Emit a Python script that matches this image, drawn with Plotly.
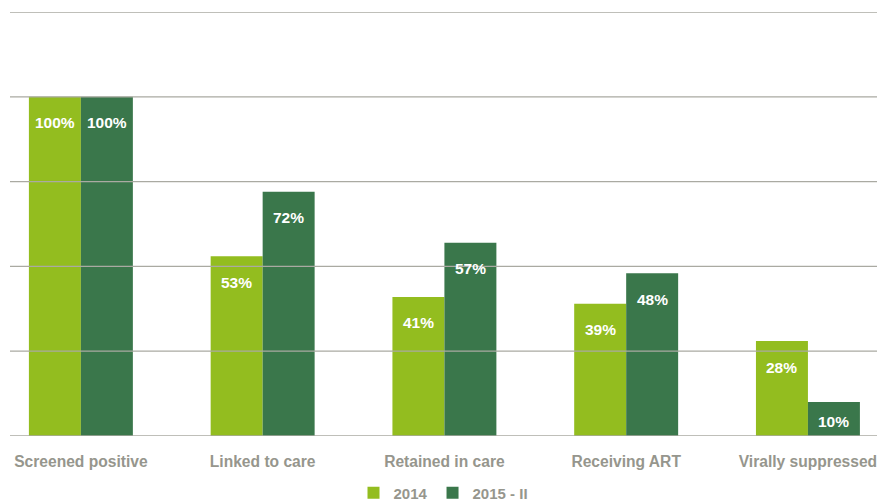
import plotly.graph_objects as go

# HIV care cascade, share of those screened positive
stages = ["Screened positive", "Linked to care", "Retained in care",
          "Receiving ART", "Virally suppressed"]
vals_2014 = [100, 53, 41, 39, 28]
vals_2015 = [100, 72, 57, 48, 10]
series_names = ["2014", "2015 - II"]
grid_values = [0, 25, 50, 75, 100, 125]

light_green = "#93bd1f"
dark_green = "#3a774b"
grid_color = "#aaaaa2"
label_gray = "#96968d"

FONT = "Liberation Sans"
Y_MAX = 125
PLOT_H = 424                      # plot area height in px
PX_PER_UNIT = PLOT_H / Y_MAX

fig = go.Figure()
for name, vals, col in ((series_names[0], vals_2014, light_green),
                        (series_names[1], vals_2015, dark_green)):
    fig.add_trace(go.Bar(x=stages, y=vals, name=name,
                         marker=dict(color=col, line=dict(width=0))))

# value labels set inside the top of each bar (centred in very short bars)
for vals, shift in ((vals_2014, -26), (vals_2015, 26)):
    for cat, v in zip(stages, vals):
        drop = min(26, v * PX_PER_UNIT / 2 + 2)
        fig.add_annotation(x=cat, y=v, text=f"{v}%", showarrow=False,
                           xref="x", yref="y", xshift=shift, yshift=-drop,
                           font=dict(family=FONT, size=15.5,
                                     color="white", weight="bold"))

# horizontal rules drawn over the bars
for g in grid_values:
    fig.add_shape(type="line", xref="paper", yref="y", x0=0, x1=1, y0=g, y1=g,
                  line=dict(color=grid_color, width=1.3), layer="above")

fig.update_layout(
    width=877, height=502,
    margin=dict(l=10, r=0, t=12, b=66, autoexpand=False),
    paper_bgcolor="white", plot_bgcolor="white",
    barmode="group", bargap=0.428, bargroupgap=0,
    showlegend=True,
    legend=dict(orientation="h", x=0.5, xanchor="center",
                yref="container", y=0.018, yanchor="middle",
                font=dict(family=FONT, size=15, color=label_gray, weight="bold"),
                itemwidth=30, traceorder="normal"),
    xaxis=dict(range=[-0.39, 4.38], showgrid=False, showline=False, ticks="",
               ticklabelstandoff=14,
               tickfont=dict(family=FONT, size=15.6, color=label_gray,
                             weight="bold")),
    yaxis=dict(range=[0, Y_MAX], showgrid=False, showticklabels=False,
               zeroline=False, showline=False),
)

fig.write_html("out.html")
